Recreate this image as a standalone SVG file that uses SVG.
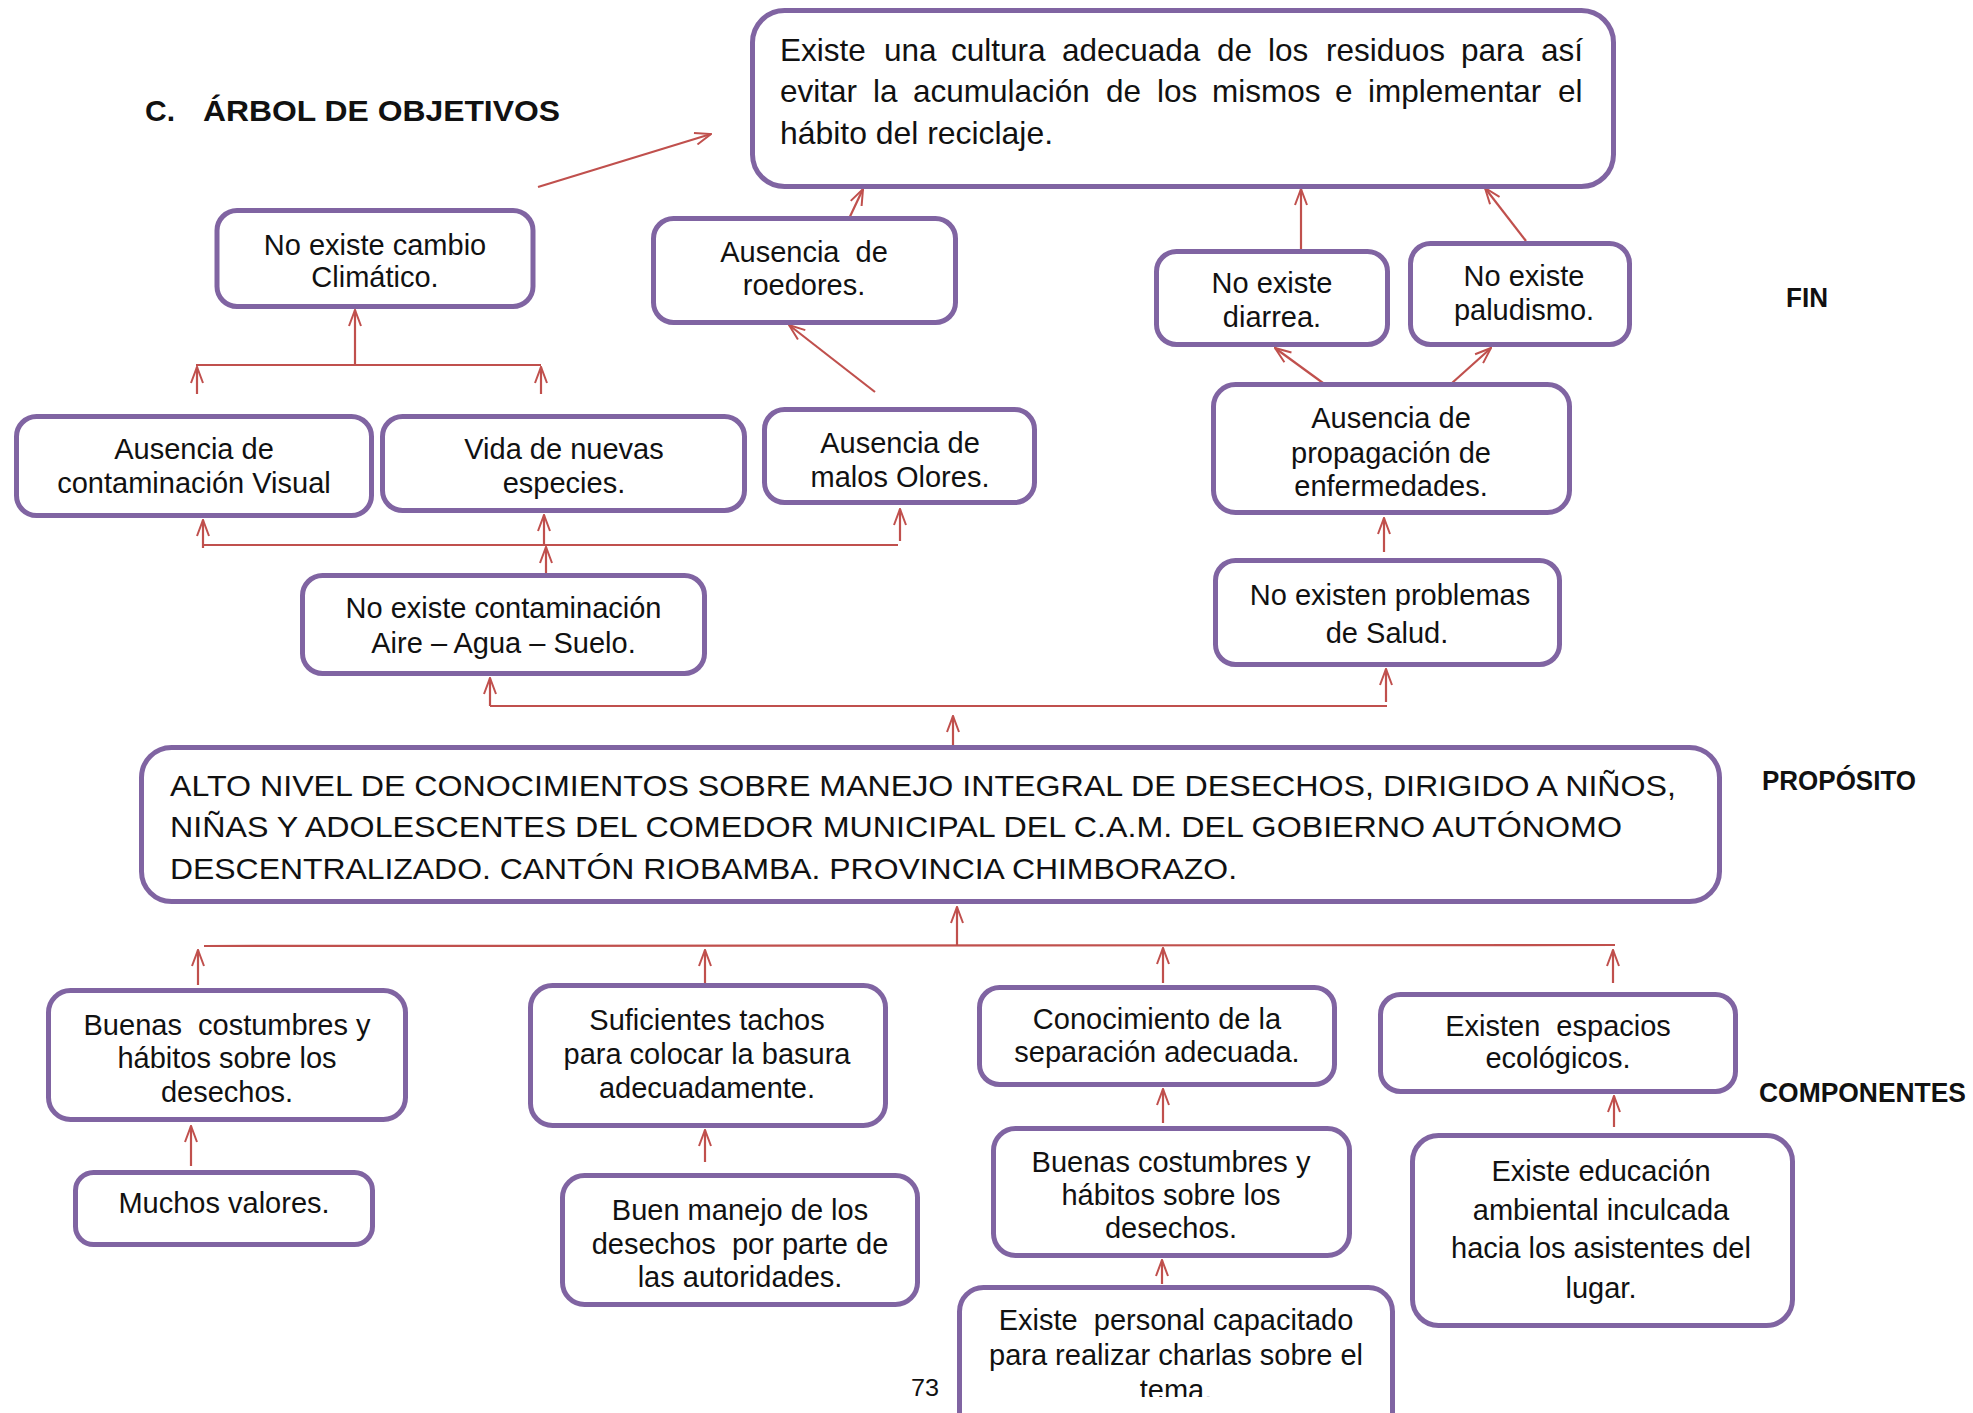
<svg xmlns="http://www.w3.org/2000/svg" width="1973" height="1413" viewBox="0 0 1973 1413">
<style>
.box{fill:#fff;stroke:#8064A2;stroke-width:5}
.t{font-family:"Liberation Sans",Arial,sans-serif;font-size:29px;fill:#111;text-anchor:middle;white-space:pre}
.tl{font-family:"Liberation Sans",Arial,sans-serif;fill:#111;white-space:pre}
.lab{font-family:"Liberation Sans",Arial,sans-serif;font-weight:bold;font-size:27px;fill:#111}
.c{stroke:#C0504D;stroke-width:2.2;fill:none}
.a{stroke:#C0504D;stroke-width:2.2;fill:none;marker-end:url(#ah)}
</style>
<defs>
<marker id="ah" viewBox="0 0 18 14" refX="17" refY="7" markerWidth="18" markerHeight="14" markerUnits="userSpaceOnUse" orient="auto">
<path d="M1,1 L17,7 L1,13" fill="none" stroke="#C0504D" stroke-width="2"/>
</marker>
<clipPath id="clipBottom"><rect x="0" y="0" width="1973" height="1397"/></clipPath>
</defs>
<rect width="1973" height="1413" fill="#fff"/>

<g id="title">
<text class="tl" x="145" y="121" font-size="30" font-weight="bold">C.</text>
<text class="tl" x="203" y="121" font-size="30" font-weight="bold" textLength="357" lengthAdjust="spacingAndGlyphs">ÁRBOL DE OBJETIVOS</text>
</g>
<g id="labels">
<text class="lab" x="1786" y="307" textLength="42" lengthAdjust="spacingAndGlyphs">FIN</text>
<text class="lab" x="1762" y="790" textLength="154" lengthAdjust="spacingAndGlyphs">PROPÓSITO</text>
<text class="lab" x="1759" y="1102" textLength="207" lengthAdjust="spacingAndGlyphs">COMPONENTES</text>
<text class="tl" x="911" y="1396" font-size="24" textLength="28" lengthAdjust="spacingAndGlyphs">73</text>
</g>

<g id="connectors">
<line class="a" x1="538" y1="187" x2="711" y2="134"/>
<line class="a" x1="846" y1="225" x2="863" y2="189"/>
<line class="a" x1="1301" y1="250" x2="1301" y2="189"/>
<line class="a" x1="1526" y1="241" x2="1485" y2="188"/>
<line class="a" x1="355" y1="365" x2="355" y2="310"/>
<line class="c" x1="196" y1="365" x2="541" y2="365"/>
<line class="a" x1="197" y1="394" x2="197" y2="367"/>
<line class="a" x1="541" y1="394" x2="541" y2="367"/>
<line class="a" x1="875" y1="392" x2="789" y2="325"/>
<line class="a" x1="1323" y1="383" x2="1275" y2="348"/>
<line class="a" x1="1452" y1="383" x2="1491" y2="348"/>
<line class="c" x1="203" y1="545" x2="898" y2="545"/>
<line class="a" x1="203" y1="548" x2="203" y2="520"/>
<line class="a" x1="544" y1="545" x2="544" y2="515"/>
<line class="a" x1="546" y1="575" x2="546" y2="547"/>
<line class="a" x1="900" y1="541" x2="900" y2="509"/>
<line class="a" x1="1384" y1="552" x2="1384" y2="518"/>
<line class="c" x1="490" y1="706" x2="1387" y2="706"/>
<line class="a" x1="490" y1="706" x2="490" y2="678"/>
<line class="a" x1="1386" y1="702" x2="1386" y2="669"/>
<line class="a" x1="953" y1="745" x2="953" y2="716"/>
<line class="a" x1="957" y1="946" x2="957" y2="907"/>
<line class="c" x1="204" y1="946" x2="1615" y2="945"/>
<line class="a" x1="198" y1="985" x2="198" y2="950"/>
<line class="a" x1="705" y1="983" x2="705" y2="950"/>
<line class="a" x1="1163" y1="983" x2="1163" y2="948"/>
<line class="a" x1="1613" y1="983" x2="1613" y2="950"/>
<line class="a" x1="191" y1="1166" x2="191" y2="1126"/>
<line class="a" x1="705" y1="1162" x2="705" y2="1130"/>
<line class="a" x1="1163" y1="1123" x2="1163" y2="1089"/>
<line class="a" x1="1162" y1="1284" x2="1162" y2="1260"/>
<line class="a" x1="1614" y1="1127" x2="1614" y2="1096"/>
</g>

<g id="fin">
<rect class="box" x="752.5" y="10.5" width="861" height="176" rx="32"/>
<text class="tl" y="61" font-size="31.5"><tspan x="780">Existe</tspan><tspan x="884">una</tspan><tspan x="951">cultura</tspan><tspan x="1062">adecuada</tspan><tspan x="1217">de</tspan><tspan x="1268">los</tspan><tspan x="1326">residuos</tspan><tspan x="1461">para</tspan><tspan x="1541">así</tspan></text>
<text class="tl" y="102" font-size="31.5"><tspan x="780">evitar</tspan><tspan x="873">la</tspan><tspan x="913">acumulación</tspan><tspan x="1106">de</tspan><tspan x="1157">los</tspan><tspan x="1212">mismos</tspan><tspan x="1335">e</tspan><tspan x="1368">implementar</tspan><tspan x="1558">el</tspan></text>
<text class="tl" x="780" y="144" font-size="31.5" textLength="273" lengthAdjust="spacingAndGlyphs">hábito del reciclaje.</text>
</g>
<g id="n-cambio">
<rect class="box" x="217" y="210.5" width="316" height="96" rx="20"/>
<text class="t" x="375" y="255">No existe cambio</text>
<text class="t" x="375" y="287">Climático.</text>
</g>
<g id="n-roedores">
<rect class="box" x="653.5" y="218.5" width="302" height="104" rx="20"/>
<text class="t" x="804" y="262">Ausencia  de</text>
<text class="t" x="804" y="295">roedores.</text>
</g>
<g id="n-diarrea">
<rect class="box" x="1156.5" y="251.5" width="231" height="93" rx="20"/>
<text class="t" x="1272" y="293">No existe</text>
<text class="t" x="1272" y="327">diarrea.</text>
</g>
<g id="n-paludismo">
<rect class="box" x="1410.5" y="243.5" width="219" height="101" rx="20"/>
<text class="t" x="1524" y="286">No existe</text>
<text class="t" x="1524" y="320">paludismo.</text>
</g>
<g id="n-visual">
<rect class="box" x="16.5" y="416.5" width="355" height="99" rx="20"/>
<text class="t" x="194" y="459">Ausencia de</text>
<text class="t" x="194" y="493">contaminación Visual</text>
</g>
<g id="n-especies">
<rect class="box" x="382.5" y="416.5" width="362" height="94" rx="20"/>
<text class="t" x="564" y="459">Vida de nuevas</text>
<text class="t" x="564" y="493">especies.</text>
</g>
<g id="n-olores">
<rect class="box" x="764.5" y="409.5" width="270" height="93" rx="20"/>
<text class="t" x="900" y="453">Ausencia de</text>
<text class="t" x="900" y="487">malos Olores.</text>
</g>
<g id="n-propagacion">
<rect class="box" x="1213.5" y="384.5" width="356" height="128" rx="22"/>
<text class="t" x="1391" y="428">Ausencia de</text>
<text class="t" x="1391" y="463">propagación de</text>
<text class="t" x="1391" y="496">enfermedades.</text>
</g>
<g id="n-contaminacion">
<rect class="box" x="302.5" y="575.5" width="402" height="98" rx="20"/>
<text class="t" x="503.5" y="618">No existe contaminación</text>
<text class="t" x="503.5" y="653">Aire – Agua – Suelo.</text>
</g>
<g id="n-salud">
<rect class="box" x="1215.5" y="560.5" width="344" height="104" rx="20"/>
<text class="t" x="1390" y="605">No existen problemas</text>
<text class="t" x="1387" y="643">de Salud.</text>
</g>
<g id="proposito">
<rect class="box" x="141.5" y="747.5" width="1578" height="154" rx="30"/>
<text class="tl" x="170" y="796" font-size="30" textLength="1506" lengthAdjust="spacingAndGlyphs">ALTO NIVEL DE CONOCIMIENTOS SOBRE MANEJO INTEGRAL DE DESECHOS, DIRIGIDO A NIÑOS,</text>
<text class="tl" x="170" y="837" font-size="30" textLength="1452" lengthAdjust="spacingAndGlyphs">NIÑAS Y ADOLESCENTES DEL COMEDOR MUNICIPAL DEL C.A.M. DEL GOBIERNO AUTÓNOMO</text>
<text class="tl" x="170" y="879" font-size="30" textLength="1067" lengthAdjust="spacingAndGlyphs">DESCENTRALIZADO. CANTÓN RIOBAMBA. PROVINCIA CHIMBORAZO.</text>
</g>
<g id="c-costumbres">
<rect class="box" x="48.5" y="990.5" width="357" height="129" rx="22"/>
<text class="t" x="227" y="1035">Buenas  costumbres y</text>
<text class="t" x="227" y="1068">hábitos sobre los</text>
<text class="t" x="227" y="1102">desechos.</text>
</g>
<g id="c-tachos">
<rect class="box" x="530.5" y="985.5" width="355" height="140" rx="22"/>
<text class="t" x="707" y="1030">Suficientes tachos</text>
<text class="t" x="707" y="1064">para colocar la basura</text>
<text class="t" x="707" y="1098">adecuadamente.</text>
</g>
<g id="c-separacion">
<rect class="box" x="979.5" y="987.5" width="355" height="97" rx="20"/>
<text class="t" x="1157" y="1029">Conocimiento de la</text>
<text class="t" x="1157" y="1062">separación adecuada.</text>
</g>
<g id="c-espacios">
<rect class="box" x="1380.5" y="994.5" width="355" height="97" rx="20"/>
<text class="t" x="1558" y="1036">Existen  espacios</text>
<text class="t" x="1558" y="1068">ecológicos.</text>
</g>
<g id="c-valores">
<rect class="box" x="75.5" y="1172.5" width="297" height="72" rx="18"/>
<text class="t" x="224" y="1213">Muchos valores.</text>
</g>
<g id="c-manejo">
<rect class="box" x="562.5" y="1175.5" width="355" height="129" rx="22"/>
<text class="t" x="740" y="1220">Buen manejo de los</text>
<text class="t" x="740" y="1254">desechos  por parte de</text>
<text class="t" x="740" y="1287">las autoridades.</text>
</g>
<g id="c-costumbres2">
<rect class="box" x="993.5" y="1128.5" width="356" height="127" rx="22"/>
<text class="t" x="1171" y="1172">Buenas costumbres y</text>
<text class="t" x="1171" y="1205">hábitos sobre los</text>
<text class="t" x="1171" y="1238">desechos.</text>
</g>
<g id="c-personal">
<rect class="box" x="959.5" y="1287.5" width="433" height="170" rx="24"/>
<text class="t" x="1176" y="1330">Existe  personal capacitado</text>
<text class="t" x="1176" y="1365">para realizar charlas sobre el</text>
<text class="t" x="1176" y="1400" clip-path="url(#clipBottom)">tema.</text>
</g>
<g id="c-educacion">
<rect class="box" x="1412.5" y="1135.5" width="380" height="190" rx="26"/>
<text class="t" x="1601" y="1181">Existe educación</text>
<text class="t" x="1601" y="1220">ambiental inculcada</text>
<text class="t" x="1601" y="1258">hacia los asistentes del</text>
<text class="t" x="1601" y="1298">lugar.</text>
</g>
</svg>
